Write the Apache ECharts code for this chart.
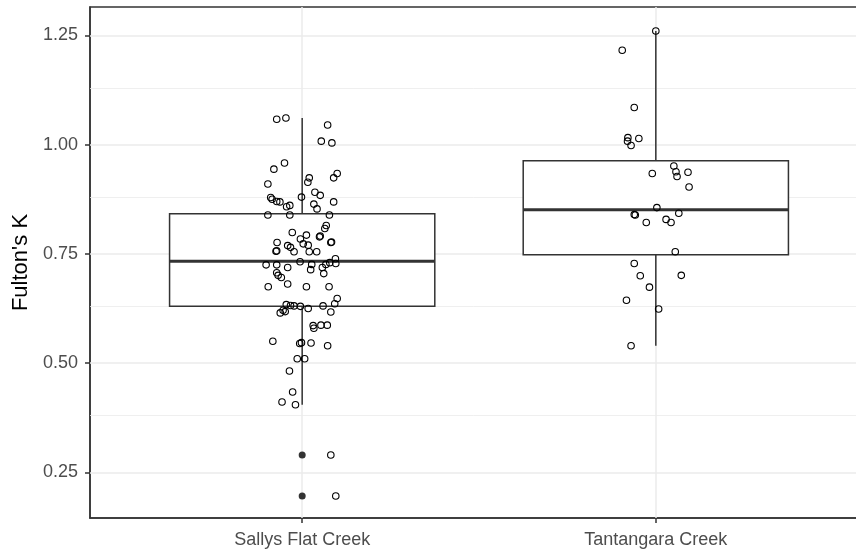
<!DOCTYPE html>
<html>
<head>
<meta charset="utf-8">
<script src="https://cdn.jsdelivr.net/npm/echarts@6/dist/echarts.min.js"></script>
<style>
  html, body { margin: 0; padding: 0; background: #fff; }
  #chart { width: 856px; height: 552px; }
</style>
</head>
<body>
<div id="chart"></div>
<script>
const categories = ['Sallys Flat Creek', 'Tantangara Creek'];

// [lower whisker, Q1, median, Q3, upper whisker]
const boxStats = [
  [0.405, 0.630, 0.733, 0.842, 1.061],
  [0.540, 0.748, 0.851, 0.963, 1.260]
];

const outliers = [[1, 0.290], [1, 0.196]];

const sallysPoints = [
  [0.928, 1.058], [0.954, 1.061], [1.072, 1.045], [1.054, 1.008], [1.084, 1.004],
  [0.950, 0.958], [0.920, 0.944], [1.020, 0.924], [1.016, 0.914], [1.099, 0.934],
  [1.089, 0.924], [0.903, 0.910], [0.911, 0.879], [0.915, 0.875], [0.928, 0.870],
  [0.937, 0.869], [0.998, 0.880], [1.036, 0.891], [1.051, 0.884], [1.089, 0.869],
  [0.956, 0.858], [0.965, 0.861], [1.033, 0.864], [1.042, 0.853], [0.903, 0.839],
  [0.965, 0.839], [1.077, 0.839], [0.972, 0.799], [1.068, 0.815], [1.064, 0.808],
  [1.012, 0.793], [0.995, 0.784], [1.049, 0.789], [1.051, 0.791], [1.083, 0.777],
  [1.081, 0.776], [0.929, 0.776], [0.959, 0.769], [0.967, 0.765], [0.926, 0.756],
  [0.928, 0.757], [0.977, 0.755], [1.003, 0.773], [1.017, 0.770], [1.020, 0.755],
  [1.041, 0.755], [0.994, 0.732], [0.898, 0.725], [0.928, 0.725], [0.959, 0.719],
  [1.027, 0.726], [1.024, 0.714], [1.057, 0.719], [1.067, 0.726], [1.078, 0.730],
  [1.094, 0.739], [1.095, 0.728], [1.061, 0.705], [0.928, 0.707], [0.932, 0.701],
  [0.941, 0.696], [0.959, 0.681], [0.904, 0.675], [1.012, 0.675], [1.076, 0.675],
  [1.099, 0.648], [1.092, 0.636], [0.955, 0.634], [0.967, 0.632], [0.977, 0.631],
  [0.995, 0.630], [1.017, 0.625], [1.059, 0.631], [0.946, 0.621], [0.952, 0.618],
  [0.938, 0.615], [1.081, 0.617], [1.031, 0.586], [1.033, 0.580], [1.053, 0.587],
  [1.071, 0.587], [0.917, 0.550], [0.993, 0.545], [0.998, 0.547], [1.025, 0.546],
  [1.072, 0.540], [0.986, 0.510], [1.007, 0.510], [0.964, 0.482], [0.973, 0.434],
  [0.943, 0.411], [0.981, 0.405], [1.081, 0.290], [1.095, 0.196]
];

const tantangaraPoints = [
  [2.000, 1.260], [1.905, 1.216], [1.939, 1.085], [1.921, 1.016], [1.920, 1.008],
  [1.930, 0.998], [1.952, 1.014], [1.990, 0.934], [2.051, 0.951], [2.057, 0.938],
  [2.060, 0.927], [2.091, 0.937], [2.094, 0.903], [2.003, 0.856], [1.939, 0.840],
  [1.942, 0.839], [1.973, 0.822], [2.029, 0.829], [2.043, 0.822], [2.065, 0.843],
  [2.055, 0.755], [1.939, 0.728], [1.956, 0.700], [2.072, 0.701], [1.982, 0.674],
  [1.917, 0.644], [2.008, 0.624], [1.930, 0.540]
];

const yTicks = [0.25, 0.5, 0.75, 1.0, 1.25];
const yMinor = [0.375, 0.625, 0.875, 1.125];
const xTicks = [1, 2];

const FONT = '"Liberation Sans", Arial, sans-serif';
const INK = '#333333';

const chart = echarts.init(document.getElementById('chart'), null, { renderer: 'canvas' });

// panel grid lines (major + minor), drawn under the boxes
const gridLines = [
  ...yTicks.map((v) => ({ yAxis: v, lineStyle: { width: 1.5 } })),
  ...yMinor.map((v) => ({ yAxis: v, lineStyle: { width: 0.8 } })),
  ...xTicks.map((v) => ({ xAxis: v, lineStyle: { width: 1.5 } }))
];

chart.setOption({
  animation: false,
  backgroundColor: '#ffffff',
  grid: {
    left: 90, width: 778, top: 7, bottom: 34,
    outerBoundsMode: 'none',
    containLabel: false,
    show: true, backgroundColor: '#ffffff', borderColor: INK, borderWidth: 1.5
  },
  xAxis: {
    type: 'value',
    min: 0.4,
    max: 2.6,
    splitLine: { show: false },
    axisLine: { show: true, lineStyle: { color: INK, width: 1.5 } },
    axisTick: { show: true, customValues: xTicks, length: 5, lineStyle: { color: INK, width: 1.5 } },
    axisLabel: {
      customValues: xTicks,
      formatter: (v) => categories[Math.round(v) - 1] || '',
      color: '#4d4d4d', fontSize: 18, fontFamily: FONT, margin: 13
    }
  },
  yAxis: {
    type: 'value',
    min: 0.1457,
    max: 1.315,
    name: "Fulton's K",
    nameLocation: 'middle',
    nameRotate: 90,
    nameGap: 56,
    nameTextStyle: { color: '#000', fontSize: 22, fontFamily: FONT },
    splitLine: { show: false },
    axisLine: { show: true, lineStyle: { color: INK, width: 1.5 } },
    axisTick: { show: true, customValues: yTicks, length: 5, lineStyle: { color: INK, width: 1.5 } },
    axisLabel: {
      customValues: yTicks,
      formatter: (v) => v.toFixed(2),
      color: '#4d4d4d', fontSize: 18, fontFamily: FONT, margin: 12
    }
  },
  series: [
    {
      type: 'scatter',
      data: [],
      silent: true,
      z: 1,
      markLine: {
        silent: true,
        z: 1,
        symbol: ['none', 'none'],
        label: { show: false },
        lineStyle: { color: '#ebebeb', type: 'solid' },
        data: gridLines
      }
    },
    {
      type: 'custom',
      z: 2,
      silent: true,
      data: boxStats.map((s, i) => [i + 1, ...s]),
      encode: { x: 0, y: [1, 2, 3, 4, 5] },
      renderItem: (params, api) => {
        const x = api.value(0);
        const lo = api.coord([x, api.value(1)]);
        const q1 = api.coord([x, api.value(2)]);
        const med = api.coord([x, api.value(3)]);
        const q3 = api.coord([x, api.value(4)]);
        const hi = api.coord([x, api.value(5)]);
        const half = api.size([0.75, 0])[0] / 2;
        const line = { stroke: INK, lineWidth: 1.5 };
        return {
          type: 'group',
          children: [
            { type: 'line', shape: { x1: lo[0], y1: lo[1], x2: q1[0], y2: q1[1] }, style: line },
            { type: 'line', shape: { x1: q3[0], y1: q3[1], x2: hi[0], y2: hi[1] }, style: line },
            {
              type: 'rect',
              shape: { x: q3[0] - half, y: q3[1], width: half * 2, height: q1[1] - q3[1] },
              style: { fill: '#ffffff', stroke: INK, lineWidth: 1.5 }
            },
            {
              type: 'line',
              shape: { x1: med[0] - half, y1: med[1], x2: med[0] + half, y2: med[1] },
              style: { stroke: INK, lineWidth: 3 }
            }
          ]
        };
      }
    },
    {
      type: 'scatter',
      z: 3,
      silent: true,
      symbol: 'circle',
      symbolSize: 7,
      itemStyle: { color: INK, opacity: 1 },
      data: outliers
    },
    {
      type: 'scatter',
      z: 4,
      silent: true,
      symbol: 'circle',
      symbolSize: 6.5,
      itemStyle: { color: 'rgba(0,0,0,0)', borderColor: '#000', borderWidth: 1.1, opacity: 1 },
      data: sallysPoints.concat(tantangaraPoints)
    }
  ]
});

window.addEventListener('resize', () => chart.resize());
</script>
</body>
</html>
